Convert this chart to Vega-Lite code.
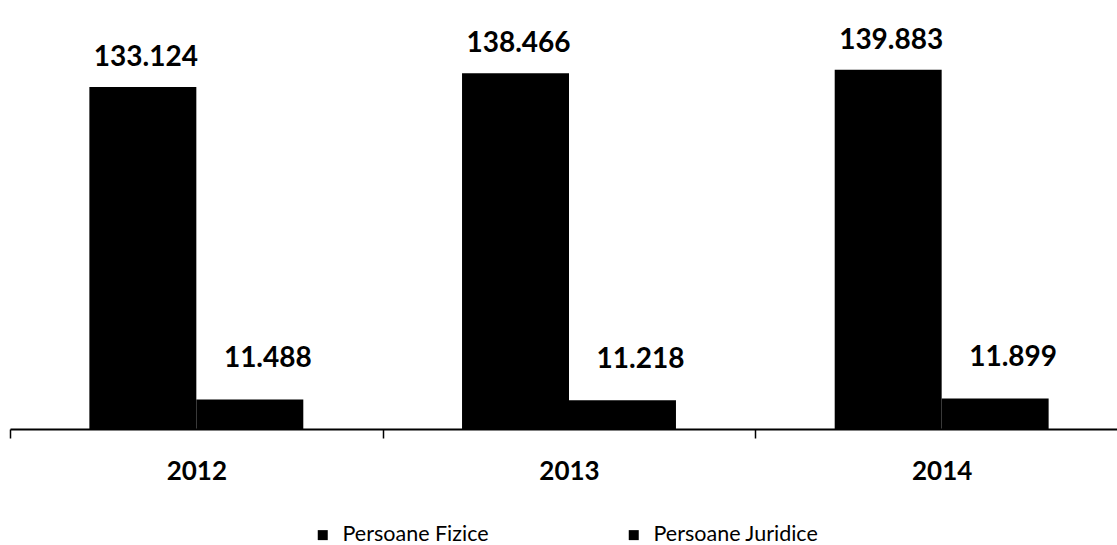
{
  "$schema": "https://vega.github.io/schema/vega-lite/v6.json",
  "width": 1107,
  "height": 429,
  "autosize": {"type": "none"},
  "padding": {"left": 10, "top": 0, "right": 0, "bottom": 116},
  "background": "white",
  "data": {
    "values": [
      {"year": "2012", "series": "Persoane Fizice", "value": 133124},
      {"year": "2012", "series": "Persoane Juridice", "value": 11488},
      {"year": "2013", "series": "Persoane Fizice", "value": 138466},
      {"year": "2013", "series": "Persoane Juridice", "value": 11218},
      {"year": "2014", "series": "Persoane Fizice", "value": 139883},
      {"year": "2014", "series": "Persoane Juridice", "value": 11899}
    ]
  },
  "encoding": {
    "x": {
      "field": "year", "type": "nominal",
      "scale": {"paddingInner": 0, "paddingOuter": 0, "range": [0, 1118]},
      "axis": {
        "title": null, "labelAngle": 0, "tickBand": "extent",
        "domainColor": "black", "domainWidth": 2, "tickColor": "black", "tickWidth": 1.5, "tickSize": 9,
        "labelFont": "Lato", "labelFontSize": 26, "labelFontWeight": "bold", "labelColor": "black",
        "labelPadding": 20, "grid": false
      }
    },
    "xOffset": {"field": "series", "type": "nominal", "scale": {"paddingInner": 0, "paddingOuter": 0.742}},
    "y": {
      "field": "value", "type": "quantitative",
      "scale": {"domain": [0, 167000], "nice": false},
      "axis": null
    }
  },
  "layer": [
    {
      "mark": {"type": "bar"},
      "encoding": {
        "color": {
          "field": "series", "type": "nominal",
          "scale": {"range": ["#000000", "#000000"]},
          "legend": {
            "title": null, "orient": "none", "direction": "horizontal", "columns": 2, "gridAlign": "all",
            "legendX": 302, "legendY": 524,
            "symbolType": "square", "symbolSize": 100, "symbolStrokeWidth": 0,
            "labelFont": "Lato", "labelFontSize": 21.5, "labelColor": "black", "labelLimit": 300,
            "labelOffset": 9, "columnPadding": 115
          }
        }
      }
    },
    {
      "transform": [{"filter": "datum.series === 'Persoane Fizice'"}],
      "mark": {"type": "text", "baseline": "alphabetic", "dy": -21, "dx": 3, "font": "Lato", "fontSize": 28, "fontWeight": "bold", "color": "black"},
      "encoding": {"text": {"field": "value", "type": "quantitative", "format": ",d"}}
    },
    {
      "transform": [{"filter": "datum.series === 'Persoane Juridice'"}],
      "mark": {"type": "text", "baseline": "alphabetic", "dy": -32, "dx": 18, "font": "Lato", "fontSize": 28, "fontWeight": "bold", "color": "black"},
      "encoding": {"text": {"field": "value", "type": "quantitative", "format": ",d"}}
    }
  ],
  "config": {
    "view": {"stroke": null},
    "locale": {"number": {"decimal": ",", "thousands": ".", "grouping": [3], "currency": ["", " lei"]}}
  }
}
